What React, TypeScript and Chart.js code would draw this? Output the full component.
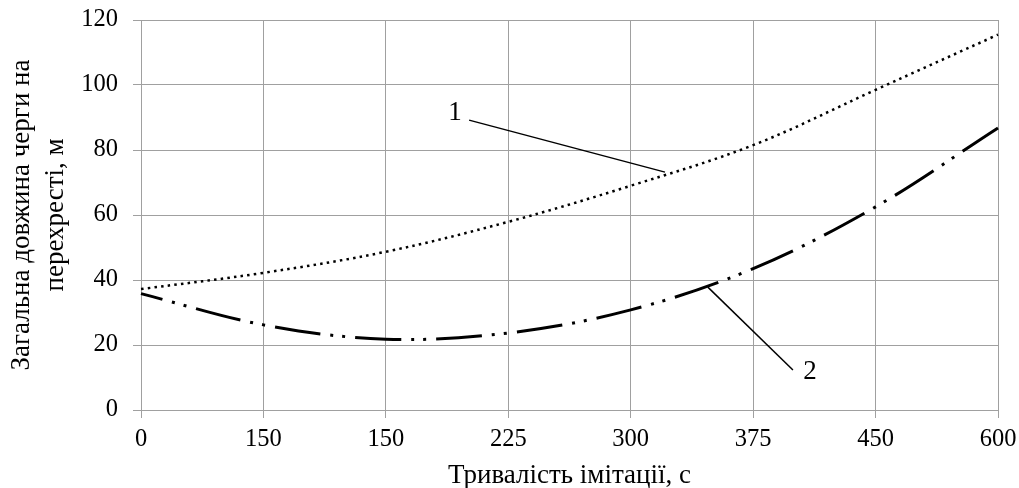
import React, { useEffect, useRef } from 'react';
import { Chart, registerables } from 'chart.js';

Chart.register(...registerables);

// ---- data ----
const categories = ['0', '150', '150', '225', '300', '375', '450', '600'];
const series1 = [37.2, 42.2, 48.7, 57.9, 69.0, 81.5, 98.5, 115.5];
const series2 = [35.8, 26.2, 21.8, 23.7, 30.8, 43.5, 62.5, 86.8];
const yMin = 0;
const yMax = 120;
const yStep = 20;
const xTitle = 'Тривалість імітації, с';
const yTitle = ['Загальна довжина черги на', 'перехресті, м'];
const curveLabels = ['1', '2'];
// label anchors in data space: [categoryIndex, value]
const labelPositions = [
  [2.565, 91.4],
  [5.464, 11.7],
];
const leaderStarts = [
  [2.68, 89.2],
  [4.63, 37.8],
];
const leaderEnds = [
  [4.28, 73.2],
  [5.325, 12.3],
];

const FONT = '"Liberation Serif", "Times New Roman", serif';
const GRID = '#a0a0a0';

const annotationPlugin = {
  id: 'curveLabels',
  afterDraw(chart: any) {
    const { ctx, scales } = chart;
    const x = scales.x;
    const y = scales.y;
    ctx.save();
    ctx.strokeStyle = '#000';
    ctx.lineWidth = 1.5;
    for (let i = 0; i < curveLabels.length; i++) {
      const s = leaderStarts[i];
      const e = leaderEnds[i];
      ctx.beginPath();
      ctx.moveTo(x.getPixelForValue(s[0]), y.getPixelForValue(s[1]));
      ctx.lineTo(x.getPixelForValue(e[0]), y.getPixelForValue(e[1]));
      ctx.stroke();
      const p = labelPositions[i];
      ctx.fillStyle = '#000';
      ctx.font = `27px ${FONT}`;
      ctx.textAlign = 'center';
      ctx.textBaseline = 'middle';
      ctx.fillText(curveLabels[i], x.getPixelForValue(p[0]), y.getPixelForValue(p[1]));
    }
    ctx.restore();
  },
};

export default function App() {
  const ref = useRef<HTMLCanvasElement | null>(null);
  useEffect(() => {
    document.body.style.margin = '0';
    const canvas = ref.current;
    if (!canvas) return;
    const chart = new Chart(canvas, {
      type: 'line',
      data: {
        labels: categories,
        datasets: [
          {
            label: '1',
            data: series1,
            borderColor: '#000',
            borderWidth: 2.5,
            borderDash: [2.5, 4.2],
            pointRadius: 0,
            tension: 0.35,
            fill: false,
          },
          {
            label: '2',
            data: series2,
            borderColor: '#000',
            borderWidth: 3,
            borderDash: [46, 10, 3, 9, 3, 10],
            borderDashOffset: 24,
            pointRadius: 0,
            tension: 0.35,
            fill: false,
          },
        ],
      },
      plugins: [annotationPlugin],
      options: {
        responsive: false,
        animation: false,
        devicePixelRatio: 1,
        layout: { padding: { top: 20, right: 21, left: 0, bottom: 0 } },
        plugins: {
          legend: { display: false },
          tooltip: { enabled: false },
        },
        scales: {
          x: {
            type: 'category',
            offset: false,
            afterFit(scale: any) {
              scale.height = 78;
              scale.paddingLeft = 0;
              scale.paddingRight = 0;
            },
            grid: {
              color: GRID,
              lineWidth: 1,
              tickLength: 8,
              drawTicks: true,
            },
            border: { color: GRID, width: 1 },
            ticks: {
              color: '#000',
              font: { family: FONT, size: 24.5, lineHeight: 1.2 },
              padding: 7,
              maxRotation: 0,
              autoSkip: false,
            },
            title: {
              display: true,
              text: xTitle,
              color: '#000',
              font: { family: FONT, size: 27, lineHeight: 0.93 },
              padding: { top: 0, bottom: 0 },
            },
          },
          y: {
            min: yMin,
            max: yMax,
            afterFit(scale: any) {
              scale.width = 141;
              scale.paddingTop = 0;
              scale.paddingBottom = 0;
            },
            grid: {
              color: GRID,
              lineWidth: 1,
              tickLength: 8,
              drawTicks: true,
            },
            border: { color: GRID, width: 1 },
            ticks: {
              stepSize: yStep,
              color: '#000',
              font: { family: FONT, size: 24.5, lineHeight: 1.2 },
              padding: 15,
            },
            title: {
              display: true,
              text: yTitle,
              color: '#000',
              font: { family: FONT, size: 27, lineHeight: 1.26 },
              padding: { top: 5, bottom: 0 },
            },
          },
        },
      },
    });
    return () => chart.destroy();
  }, []);
  return (
    <div style={{ width: 1019, height: 488 }}>
      <canvas ref={ref} width={1019} height={488} style={{ display: 'block' }} />
    </div>
  );
}
